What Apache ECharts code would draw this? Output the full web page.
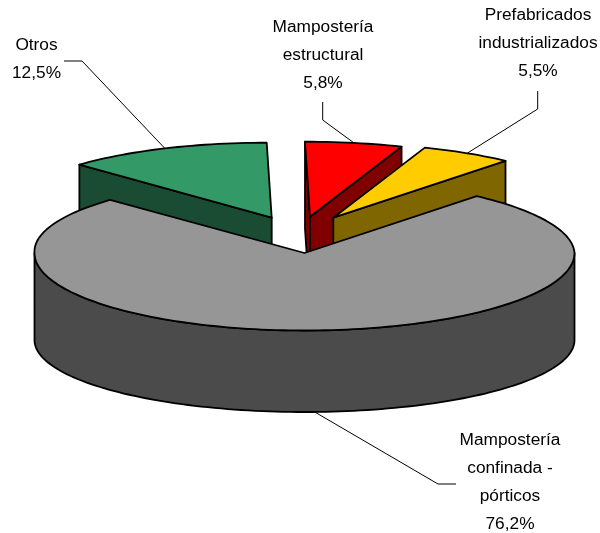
<!DOCTYPE html>
<html>
<head>
<meta charset="utf-8">
<style>html,body{margin:0;padding:0;background:#fff}#c{width:600px;height:533px}</style>
<script src="https://cdn.jsdelivr.net/npm/echarts@6/dist/echarts.min.js"></script>
</head>
<body>
<div id="c"></div>
<script>
// Data
const categories = ['Otros', 'Mampostería\nestructural', 'Prefabricados\nindustrializados', 'Mampostería\nconfinada -\npórticos'];
const shares = [12.5, 5.8, 5.5, 76.2];
const topColors = ['#339966', '#ff0000', '#ffcc00', '#969696'];
const wallColors = ['#1a4c33', '#800000', '#806600', '#4b4b4b'];

// Layout (pie geometry and label placement)
const firstAngle = 315, RY_BACK = 75, RY_FRONT = 77.5, RY_BOTTOM = 72, DEPTH = 87, LEAN = 5 / 75;
const radiiX = [267, 270, 270, 270];
const apexes = [[271.7, 217.7], [310, 216.7], [333.3, 217.7], [304.5, 253]];
const labelPos = [[36.5, 59], [323, 55], [538, 43.5], [510, 482]];
const leaderElbows = [
  [[64, 61], [82, 61]],
  [[322.7, 102], [322.7, 120]],
  [[537.7, 91], [537.7, 109]],
  [[456, 484], [438, 484]]
];

const total = shares.reduce((a, b) => a + b, 0);
const rad = d => d * Math.PI / 180;

function rim(i, deg, bottom) {
  const s = Math.sin(rad(deg)), c = Math.cos(rad(deg));
  const back = c > 0;
  const y = -(bottom ? RY_BOTTOM : (back ? RY_BACK : RY_FRONT)) * c;
  const x = radiiX[i] * s + (back ? LEAN * y : 0);
  return [apexes[i][0] + x, apexes[i][1] + y + (bottom ? DEPTH : 0)];
}
function arc(i, a0, a1, bottom) {
  const pts = [];
  const n = Math.max(2, Math.ceil((a1 - a0) / 1.5));
  for (let k = 0; k <= n; k++) pts.push(rim(i, a0 + (a1 - a0) * k / n, bottom));
  return pts;
}
const edgeStyle = fill => ({ fill, stroke: '#000', lineWidth: 1.8, lineJoin: 'round' });

function renderSlice(params, api) {
  const i = api.value(0), v = api.value(1);
  let before = 0;
  for (let k = 0; k < i; k++) before += shares[k];
  const a0 = (firstAngle + before / total * 360) % 360;
  const a1 = a0 + v / total * 360;
  const mid = (a0 + a1) / 2;
  const [ax, ay] = apexes[i];
  const children = [];
  const poly = (points, fill) => children.push({ type: 'polygon', shape: { points }, style: edgeStyle(fill) });

  // Radial walls that face the viewer
  if (Math.sin(rad(a0)) < 0.01) {
    const p = rim(i, a0);
    poly([p, [ax, ay], [ax, ay + DEPTH], [p[0], p[1] + DEPTH]], wallColors[i]);
  }
  if (Math.sin(rad(a1)) > 0.01) {
    const p = rim(i, a1);
    poly([p, [ax, ay], [ax, ay + DEPTH], [p[0], p[1] + DEPTH]], wallColors[i]);
  }
  // Outer curved wall: front half of the rim only
  const f0 = Math.max(a0, 90), f1 = Math.min(a1, 270);
  if (f1 > f0) {
    poly(arc(i, f0, f1, false).concat(arc(i, f0, f1, true).reverse()), wallColors[i]);
  }
  // Top face
  poly([[ax, ay]].concat(arc(i, a0, a1, false)), topColors[i]);

  // Leader line, ending on the rim at the slice's middle angle
  const end = rim(i, mid, Math.cos(rad(mid)) < 0);
  children.push({
    type: 'polyline',
    shape: { points: leaderElbows[i].concat([end]) },
    style: { fill: 'none', stroke: '#000', lineWidth: 1 },
    z2: 5
  });
  // Label
  children.push({
    type: 'text',
    style: {
      x: labelPos[i][0], y: labelPos[i][1],
      text: categories[i] + '\n' + v.toFixed(1).replace('.', ',') + '%',
      align: 'center', verticalAlign: 'middle',
      fontFamily: '"Liberation Sans", Arial, sans-serif',
      fontSize: 17.3, lineHeight: 28, fill: '#000'
    },
    z2: 6
  });
  return { type: 'group', children };
}

const chart = echarts.init(document.getElementById('c'), null, { renderer: 'canvas' });
chart.setOption({
  backgroundColor: '#ffffff',
  animation: false,
  series: [{
    type: 'custom',
    coordinateSystem: 'none',
    silent: true,
    renderItem: renderSlice,
    data: shares.map((v, i) => [i, v])
  }]
});
</script>
</body>
</html>
